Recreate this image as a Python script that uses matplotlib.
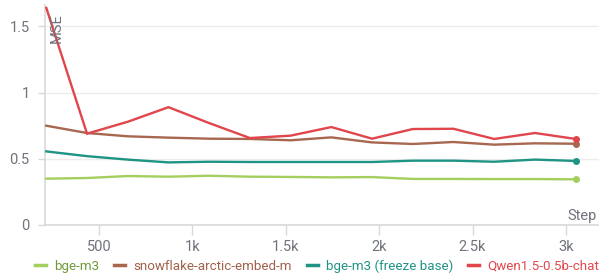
import matplotlib
matplotlib.use("Agg")
import matplotlib.pyplot as plt

steps = [218, 436, 654, 872, 1090, 1308, 1526, 1744, 1962, 2180, 2398, 2616, 2834, 3052]
bge_m3 = [0.35, 0.355, 0.37, 0.365, 0.372, 0.365, 0.363, 0.36, 0.362, 0.348, 0.348, 0.347, 0.347, 0.345]
snowflake = [0.75, 0.695, 0.67, 0.66, 0.652, 0.65, 0.64, 0.662, 0.624, 0.612, 0.627, 0.607, 0.617, 0.614]
bge_m3_freeze = [0.556, 0.52, 0.494, 0.473, 0.478, 0.476, 0.476, 0.476, 0.476, 0.486, 0.486, 0.478, 0.494, 0.484]
qwen = [1.64, 0.69, 0.78, 0.89, 0.77, 0.657, 0.675, 0.74, 0.652, 0.725, 0.727, 0.65, 0.695, 0.65]

series_names = ["bge-m3", "snowflake-arctic-embed-m", "bge-m3 (freeze base)", "Qwen1.5-0.5b-chat"]
x_ticks = [500, 1000, 1500, 2000, 2500, 3000]
x_tick_labels = ["500", "1k", "1.5k", "2k", "2.5k", "3k"]
y_ticks = [0, 0.5, 1, 1.5]
y_tick_labels = ["0", "0.5", "1", "1.5"]

line_colors = ["#a4cf5e", "#a8674f", "#1f9384", "#e0464c"]
text_colors = ["#6d9a38", "#a0614a", "#1f9384", "#e0464c"]

plt.rcParams['font.family'] = ['Roboto', 'DejaVu Sans']

fig = plt.figure(figsize=(5.99, 2.74), dpi=100)
W, H = 599, 274
ax_left, ax_right, ax_top, ax_bottom = 45, 599, 5, 225
ax = fig.add_axes([ax_left / W, 1 - ax_bottom / H, (ax_right - ax_left) / W, (ax_bottom - ax_top) / H])

all_series = [bge_m3, snowflake, bge_m3_freeze, qwen]
for vals, col, name in zip(all_series, line_colors, series_names):
    ax.plot(steps, vals, color=col, lw=1.7, label=name, solid_joinstyle='miter', zorder=3)
    ax.plot([steps[-1]], [vals[-1]], 'o', color=col, ms=4, zorder=4)

ax.set_xlim(211, 3177)
ax.set_ylim(0, 1.662)
ax.set_xticks(x_ticks)
ax.set_xticklabels(x_tick_labels)
ax.set_yticks(y_ticks)
ax.set_yticklabels(y_tick_labels)

tick_col = "#70737c"
ax.tick_params(axis='x', colors="#d9d9d9", labelcolor=tick_col, labelsize=10.5, length=7, width=1, pad=4)
ax.tick_params(axis='y', colors="#d9d9d9", labelcolor=tick_col, labelsize=10.5, length=5, width=1, pad=6)
ax.grid(axis='y', color="#ececec", lw=1)
ax.set_axisbelow(True)
for s in ['top', 'right']:
    ax.spines[s].set_visible(False)
ax.spines['left'].set_color("#d9d9d9")
ax.spines['bottom'].set_color("#d9d9d9")
ax.spines['left'].set_linewidth(1.2)
ax.spines['bottom'].set_linewidth(1.2)

fig.text(56.5 / W, 1 - 13 / H, "MSE", rotation=90, ha='center', va='top', fontsize=10.5, color=tick_col)
fig.text(597 / W, 1 - 220 / H, "Step", ha='right', va='baseline', fontsize=10.5, color=tick_col)

leg = fig.legend(loc='center', bbox_to_anchor=(317 / W, 1 - 266 / H), ncol=4, frameon=False,
                 fontsize=9.6, handlelength=0.8, handletextpad=0.6, columnspacing=1.15,
                 borderaxespad=0, borderpad=0)
for t, c in zip(leg.get_texts(), text_colors):
    t.set_color(c)
for h in leg.legend_handles:
    h.set_linewidth(2.5)

fig.savefig("out.png", dpi=100)
